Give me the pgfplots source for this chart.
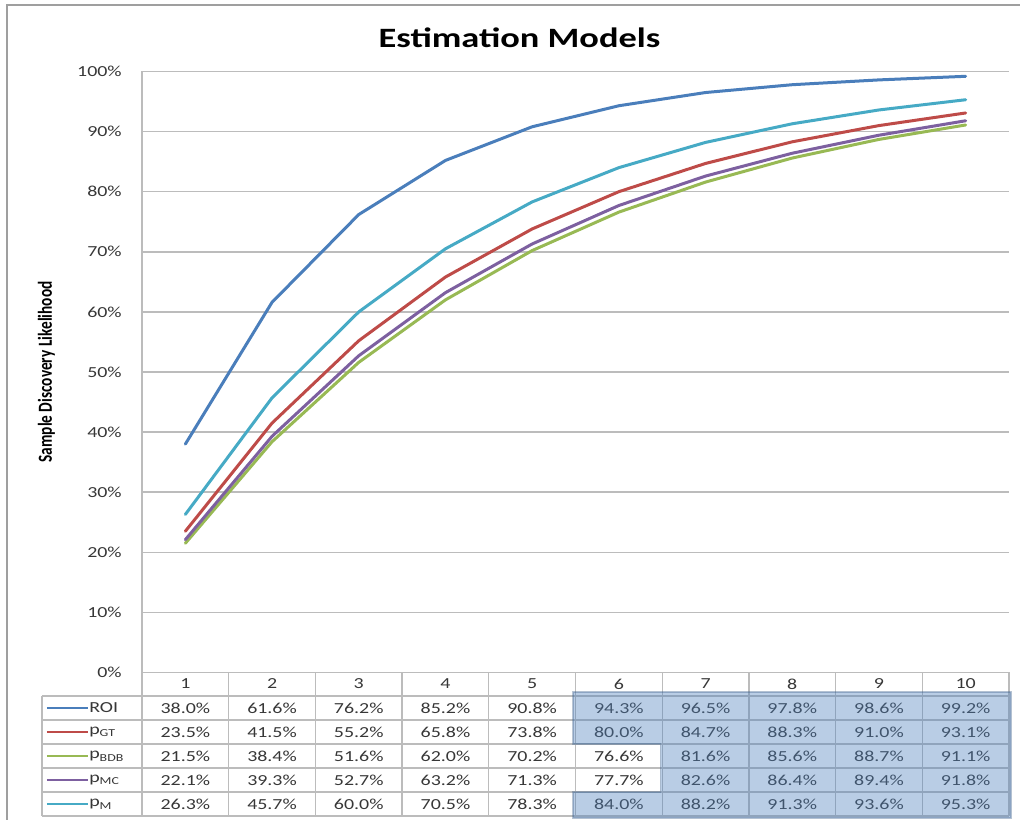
\documentclass[border=0pt]{standalone}
\usepackage{pgfplots}
\pgfplotsset{compat=1.18}
\usepackage{pgfplotstable}
\usepackage{fontspec}
\usepackage{graphicx}
\setmainfont{Carlito}[FakeStretch=1.3]
\newfontfamily\labelfont{Carlito}
\pgfplotsset{/pgf/number format/assume math mode=true}

\definecolor{roi}{RGB}{74,126,187}
\definecolor{pgt}{RGB}{190,75,72}
\definecolor{pbdb}{RGB}{152,185,84}
\definecolor{pmc}{RGB}{125,96,160}
\definecolor{pm}{RGB}{70,170,197}
\definecolor{gridgray}{RGB}{188,188,188}
\definecolor{txt}{RGB}{55,55,55}
\definecolor{hl}{RGB}{79,129,189}

% sample discovery likelihood (%) per model
\pgfplotstableread{
x  roi  pgt  pbdb pmc  pm
1  38.0 23.5 21.5 22.1 26.3
2  61.6 41.5 38.4 39.3 45.7
3  76.2 55.2 51.6 52.7 60.0
4  85.2 65.8 62.0 63.2 70.5
5  90.8 73.8 70.2 71.3 78.3
6  94.3 80.0 76.6 77.7 84.0
7  96.5 84.7 81.6 82.6 88.2
8  97.8 88.3 85.6 86.4 91.3
9  98.6 91.0 88.7 89.4 93.6
10 99.2 93.1 91.1 91.8 95.3
}\models

\newcommand{\cellfont}{\fontsize{11.5}{13}\selectfont}
\newcommand{\sub}[1]{\raisebox{-0.35ex}{\fontsize{8}{9}\selectfont #1}}

\begin{document}
\begin{tikzpicture}
\begin{axis}[
  at={(0,0)}, anchor=south west,
  scale only axis, width=650.25pt, height=450.75pt,
  xmin=0.5, xmax=10.5, ymin=0, ymax=100,
  axis x line*=bottom, axis y line*=left,
  axis line style={gridgray, line width=1.1pt, -},
  ymajorgrids, major grid style={gridgray, line width=1.1pt},
  major tick length=0pt,
  xtick={1,...,10}, ytick={0,10,...,100},
  yticklabel={\pgfmathprintnumber{\tick}\%},
  ticklabel style={font=\cellfont, text=txt},
  yticklabel style={anchor=east, inner sep=0pt, xshift=-15pt},
  xticklabel style={anchor=center, inner sep=0pt, yshift=-8.6pt},
  every axis plot/.append style={line width=2.25pt, line join=round, line cap=round},
  clip=false,
]
\addplot[roi]  table[y=roi]  {\models};
\addplot[pgt]  table[y=pgt]  {\models};
\addplot[pbdb] table[y=pbdb] {\models};
\addplot[pmc]  table[y=pmc]  {\models};
\addplot[pm]   table[y=pm]   {\models};
\end{axis}

% everything else in picture pixels, axis corner at (142,672.5)
\begin{scope}[x=0.75pt, y=-0.75pt, shift={(-142,-672.5)}]
  % outer frame
  \draw[gray!75, line width=1.5pt] (7,820) -- (7,5) -- (1020,5);

  \node[font=\bfseries\fontsize{21}{25}\selectfont] at (519.5,38) {Estimation Models};
  \node[rotate=90, font=\labelfont\bfseries\fontsize{11.5}{13}\selectfont]
    at (46.5,372) {\scalebox{1}[1.3]{Sample Discovery Likelihood}};

  % data table grid
  \draw[gridgray, line width=1pt] (42,696) -- (42,816);
  \foreach \k in {0,...,10}
    \draw[gridgray, line width=1pt] ({142+86.7*\k},672.5) -- ({142+86.7*\k},816);
  \foreach \r in {0,...,5}
    \draw[gridgray, line width=1pt] (42,{696+24*\r}) -- (1009,{696+24*\r});

  % legend keys
  \foreach \c/\lab [count=\r from 0] in {roi/ROI, pgt/p\sub{GT},
      pbdb/p\sub{BDB}, pmc/p\sub{MC}, pm/p\sub{M}} {
    \draw[\c, line width=1.6pt] (47,{708+24*\r}) -- (88,{708+24*\r});
    \node[anchor=west, inner sep=0pt, font=\cellfont, text=txt] at (89,{708+24*\r}) {\lab};
  }

  % values
  \foreach \col [count=\r from 0] in {roi,pgt,pbdb,pmc,pm} {
    \foreach \i in {0,...,9} {
      \pgfplotstablegetelem{\i}{\col}\of\models
      \node[font=\cellfont, text=txt] at ({185.35+86.7*\i},{708+24*\r})
        {\pgfmathprintnumber[fixed,fixed zerofill,precision=1]{\pgfplotsretval}\%};
    }
  }

  % highlighted cells
  \fill[hl, fill opacity=0.4] (573,692) -- (1011,692) -- (1011,818) -- (573,818)
    -- (573,792) -- (660.7,792) -- (660.7,744) -- (573,744) -- cycle;
  \draw[hl!70!black, draw opacity=0.35, line width=1pt] (573,692) -- (1011,692) -- (1011,818) -- (573,818)
    -- (573,792) -- (660.7,792) -- (660.7,744) -- (573,744) -- cycle;

  \pgfresetboundingbox
  \path[use as bounding box] (0,0) rectangle (1020,820);
\end{scope}
\end{tikzpicture}
\end{document}
